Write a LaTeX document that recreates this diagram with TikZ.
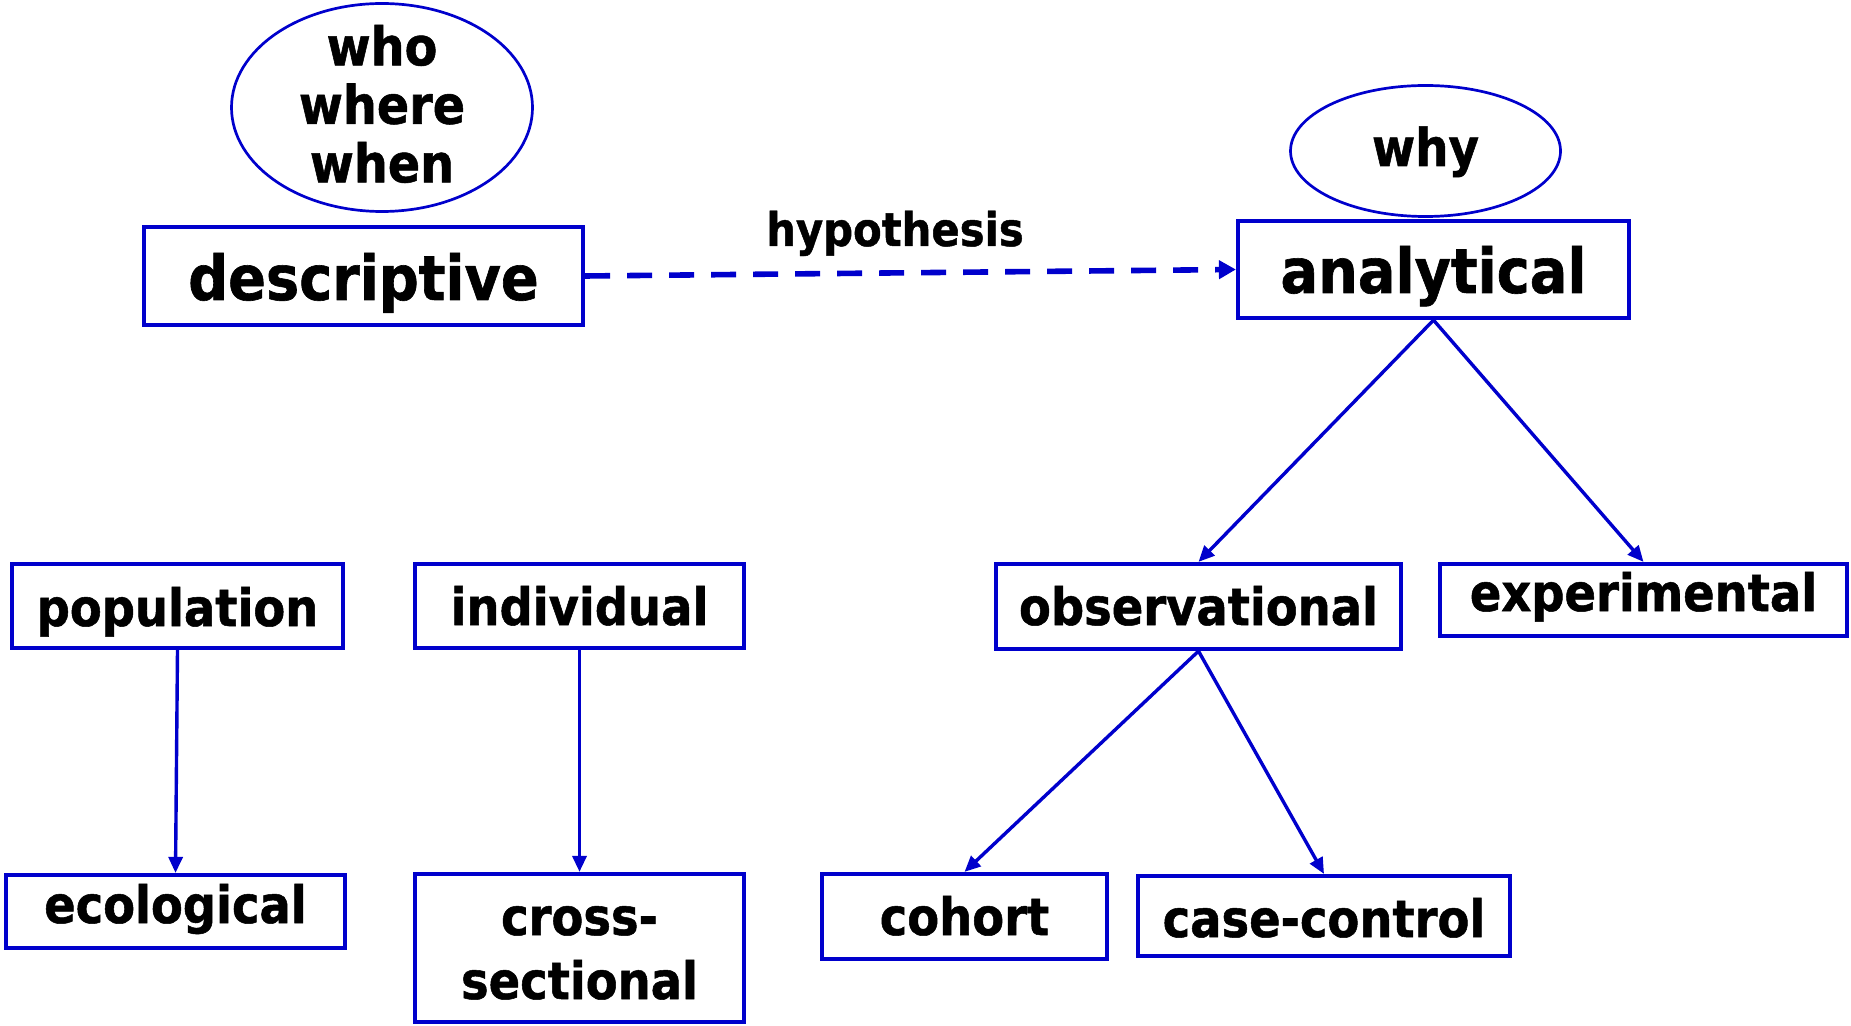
\documentclass[tikz,border=0pt]{standalone}
\usepackage{fontspec}
\newfontfamily\lblfont{DejaVu Sans Condensed Bold}[FakeBold=1]
\usetikzlibrary{arrows.meta,shapes.geometric}
\definecolor{dblue}{RGB}{0,0,204}
\begin{document}
\begin{tikzpicture}[x=0.5pt,y=-0.5pt,
  box/.style={draw=dblue, line width=2.1pt, rectangle, inner sep=0pt, font=\lblfont\fontsize{25.8pt}{32pt}\selectfont},
  bigbox/.style={box, font=\lblfont\fontsize{31pt}{36pt}\selectfont},
  oval/.style={draw=dblue, line width=1.35pt, ellipse, inner sep=0pt},
  link/.style={draw=dblue, line width=1.7pt, -{Triangle[length=8pt,width=7pt]}},
  hyplink/.style={draw=dblue, line width=2.8pt, dash pattern=on 12.5pt off 8.5pt, -{Triangle[length=8.5pt,width=9pt]}}]
\useasboundingbox (0,0) rectangle (1851,1026);

% top level
\node[oval, minimum width=150.5pt, minimum height=104pt] (who) at (382,107.5) {};
\node[font=\lblfont\fontsize{26.5pt}{29.25pt}\selectfont, align=center, inner sep=0pt] (whotext) at (382,104) {who\\where\\when};
\node[bigbox, minimum width=219.5pt, minimum height=49pt, text height=26pt, text depth=2pt] (desc) at (363.5,276) {descriptive};

\node[oval, minimum width=135pt, minimum height=65.5pt, font=\lblfont\fontsize{26pt}{30pt}\selectfont, text height=17pt, text depth=2pt] (why) at (1425.5,151) {why};
\node[bigbox, minimum width=195.5pt, minimum height=48.5pt, text height=26pt, text depth=2.5pt] (anal) at (1433.5,269.5) {analytical};

\node[font=\lblfont\fontsize{23.2pt}{28pt}\selectfont, anchor=base, inner sep=0pt] (hyp) at (895,246) {hypothesis};

% second level
\node[box, minimum width=165.5pt, minimum height=42pt, text height=22pt, text depth=2pt] (pop) at (177.5,606) {population};
\node[box, minimum width=164.5pt, minimum height=42pt, text height=21pt, text depth=2pt] (ind) at (579.5,606) {individual};
\node[box, minimum width=202.5pt, minimum height=42.5pt, text height=20.5pt, text depth=2pt] (obs) at (1198.5,606.5) {observational};
\node[box, minimum width=203.5pt, minimum height=36pt, text height=13pt, text depth=2pt] (exp) at (1643.5,600) {experimental};

% third level
\node[box, minimum width=169.5pt, minimum height=36.5pt, text height=13.5pt, text depth=2pt] (eco) at (175.5,911.5) {ecological};
\node[box, minimum width=164.5pt, minimum height=74pt, align=center, text height=51pt, text depth=0pt] (cross) at (579.5,948) {cross-\\sectional};
\node[box, minimum width=142.5pt, minimum height=42.5pt, text height=20.5pt, text depth=2pt] (cohort) at (964.5,916.5) {cohort};
\node[box, minimum width=186pt, minimum height=40pt, text height=23pt, text depth=2pt] (cc) at (1324,916) {case-control};

% connectors
\draw[hyplink] (desc.east) -- (anal.west);
\draw[link] (anal.south) -- (obs.north);
\draw[link] (anal.south) -- (exp.north);
\draw[link] (obs.south) -- (cohort.north);
\draw[link] (obs.south) -- (cc.north);
\draw[link] (pop.south) -- (eco.north);
\draw[link] (ind.south) -- (cross.north);
\end{tikzpicture}
\end{document}
